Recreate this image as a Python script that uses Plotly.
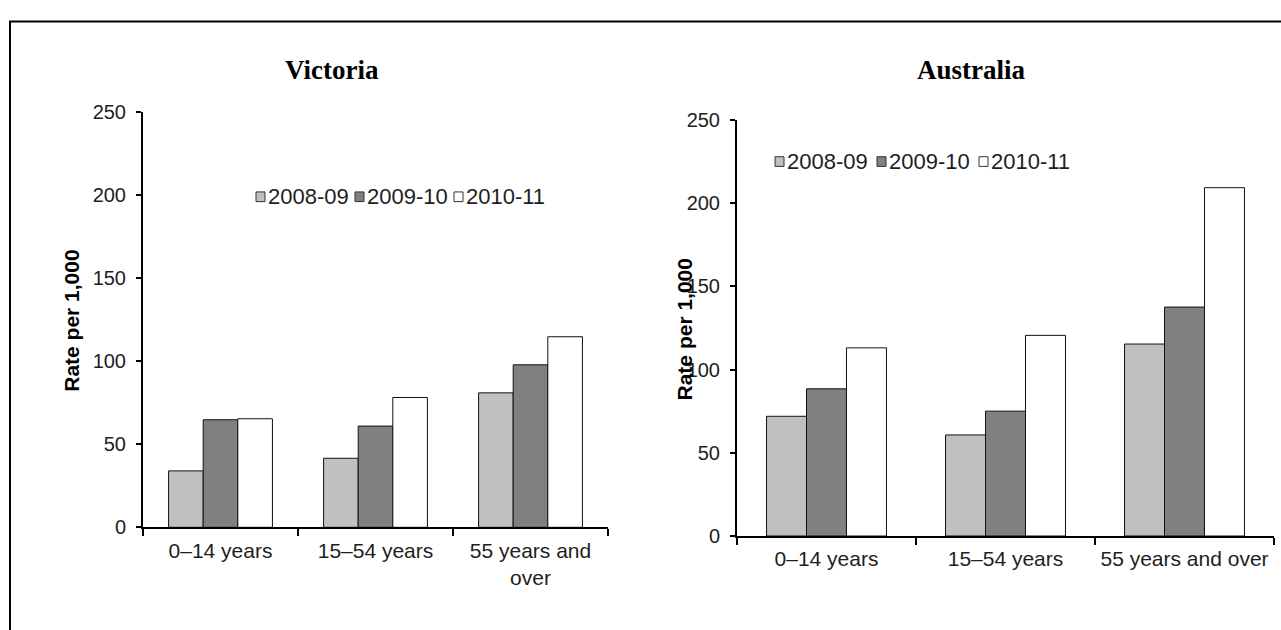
import plotly.graph_objects as go

# ---- data ----
categories_vic = ["0–14 years", "15–54 years", "55 years and<br>over"]
categories_aus = ["0–14 years", "15–54 years", "55 years and over"]
series_names = ["2008-09", "2009-10", "2010-11"]
vic_2008_09 = [34.0, 41.6, 81.0]
vic_2009_10 = [64.8, 61.0, 97.9]
vic_2010_11 = [65.4, 78.2, 114.8]
aus_2008_09 = [71.9, 60.7, 115.3]
aus_2009_10 = [88.4, 75.0, 137.5]
aus_2010_11 = [113.0, 120.5, 209.2]
y_ticks = [0, 50, 100, 150, 200, 250]
panel_titles = ["Victoria", "Australia"]
y_title = "Rate per 1,000"

# ---- style ----
W, H = 1281, 630
colors = ["#c0c0c0", "#808080", "#ffffff"]
SANS = "Liberation Sans, Arial, sans-serif"
SERIF = "Liberation Serif, Times New Roman, serif"
TXT = "#1e1e1e"


def px(x):
    return x / W


def py(y):
    return 1 - y / H


vic_series = [vic_2008_09, vic_2009_10, vic_2010_11]
aus_series = [aus_2008_09, aus_2009_10, aus_2010_11]

fig = go.Figure()
for name, vals, col in zip(series_names, vic_series, colors):
    fig.add_trace(go.Bar(x=categories_vic, y=vals, name=name, xaxis="x", yaxis="y",
                         marker=dict(color=col, line=dict(color="#111111", width=1)),
                         showlegend=False, hoverinfo="x+y+name"))
for name, vals, col in zip(series_names, aus_series, colors):
    fig.add_trace(go.Bar(x=categories_aus, y=vals, name=name, xaxis="x2", yaxis="y2",
                         marker=dict(color=col, line=dict(color="#111111", width=1)),
                         showlegend=False, hoverinfo="x+y+name"))

xcommon = dict(type="category", showline=True, linecolor="black", linewidth=2,
               ticks="outside", tickson="boundaries", ticklen=7, tickwidth=2,
               tickcolor="black", tickfont=dict(family=SANS, size=21, color=TXT),
               ticklabelstandoff=3,
               showgrid=False, zeroline=False, fixedrange=True)
ycommon = dict(range=[0, 250], tickvals=y_ticks, showline=True, linecolor="black",
               linewidth=2, ticks="outside", ticklen=5, tickwidth=2, tickcolor="black",
               tickfont=dict(family=SANS, size=20, color=TXT), showgrid=False,
               zeroline=False, ticklabelstandoff=6, fixedrange=True)

fig.update_layout(
    width=W, height=H,
    margin=dict(l=0, r=0, t=0, b=0),
    paper_bgcolor="white", plot_bgcolor="white",
    barmode="group", bargap=0.33, bargroupgap=0,
    showlegend=False,
    xaxis=dict(xcommon, domain=[px(143), px(608)], anchor="y"),
    yaxis=dict(ycommon, domain=[py(535), py(105)], anchor="x"),
    xaxis2=dict(xcommon, domain=[px(737), px(1274)], anchor="y2"),
    yaxis2=dict(ycommon, domain=[py(544), py(112.7)], anchor="x2"),
)

annotations = []
shapes = []
# panel titles
for title, cx in zip(panel_titles, [332, 972]):
    annotations.append(dict(text=f"<b>{title}</b>", x=px(cx), y=py(61), xref="paper", yref="paper",
                            showarrow=False, xanchor="center", yanchor="middle",
                            font=dict(family=SERIF, size=27, color="black")))
# y axis titles
for cx, cy in [(72, 321), (684, 330)]:
    annotations.append(dict(text=f"<b>{y_title}</b>", x=px(cx), y=py(cy), xref="paper", yref="paper",
                            showarrow=False, textangle=-90, xanchor="center", yanchor="middle",
                            font=dict(family=SANS, size=21, color="black")))
# legends (swatch + label)
for (lx, ly, pitch) in [(256, 192.5, 99), (775, 156, 102)]:
    for i, (name, col) in enumerate(zip(series_names, colors)):
        x0 = lx + i * pitch
        shapes.append(dict(type="rect", xref="paper", yref="paper",
                           x0=px(x0), x1=px(x0 + 9), y0=py(ly + 5), y1=py(ly - 5),
                           fillcolor=col, line=dict(color="#333333", width=1)))
        annotations.append(dict(text=name, x=px(x0 + 10), y=py(ly), xref="paper", yref="paper",
                                showarrow=False, xanchor="left", yanchor="middle",
                                font=dict(family=SANS, size=22, color=TXT)))
# outer frame
shapes.append(dict(type="rect", xref="paper", yref="paper", x0=px(10), x1=1.05,
                   y0=-0.05, y1=py(11), line=dict(color="black", width=2),
                   fillcolor="rgba(0,0,0,0)", layer="above"))

fig.update_layout(annotations=annotations, shapes=shapes)
fig.write_html("out.html", config={"displayModeBar": False},
               post_script="document.body.style.margin='0';document.body.style.overflow='hidden';")
